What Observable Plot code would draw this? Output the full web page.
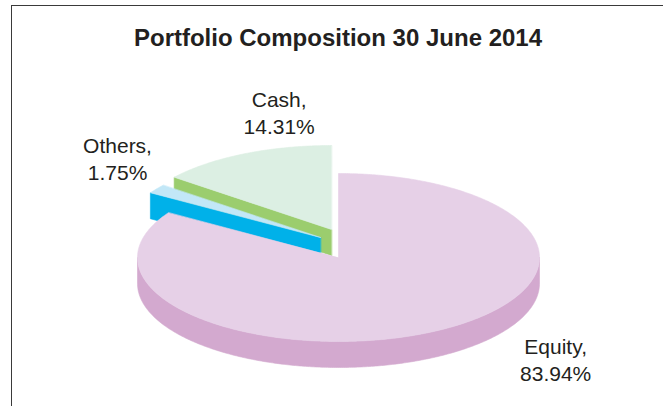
<!DOCTYPE html>
<html><head><meta charset="utf-8">
<script src="https://cdn.jsdelivr.net/npm/d3@7"></script>
<script src="https://cdn.jsdelivr.net/npm/@observablehq/plot@0.6"></script>
<style>
html,body{margin:0;padding:0;background:#fff;}
#wrap{position:relative;width:663px;height:406px;overflow:hidden;}
#frame{position:absolute;left:11px;top:5px;width:720px;height:460px;border:1.6px solid #3a3a3a;box-sizing:border-box;}
#chart{position:absolute;left:0;top:0;}
</style></head><body>
<div id="wrap"><div id="frame"></div><div id="chart"></div></div>
<script>
// ---- data ----
const title = "Portfolio Composition 30 June 2014";
const categories = ["Equity", "Others", "Cash"];
const values = [83.94, 1.75, 14.31];
const labels = ["Equity,\n83.94%", "Others,\n1.75%", "Cash,\n14.31%"];

// ---- layout / style ----
const W = 663, H = 406;
const geo = {cx: 338, cy: 257, rx: 201, ry: 84, depth: 26};
const explode = {Equity: [0, 0], Others: [-18, -20], Cash: [-7, -28]};
const colors = {
  Equity: {top: "#e6d0e7", side: "#d3a9cf"},
  Others: {top: "#c2e7f7", side: "#00b1e9"},
  Cash:   {top: "#dcefe3", side: "#9bcd6e"}
};
const labelNudge = {Equity: [120, 4], Others: [-39, -55], Cash: [35, -66]};
const font = "'Liberation Sans', Arial, Helvetica, sans-serif";
const ink = "#231f20";

// ---- geometry from data ----
const rows = categories.map((c, i) => ({category: c, value: values[i], label: labels[i]}));
const arcs = d3.pie().sort(null).value(d => d.value).startAngle(0).endAngle(2 * Math.PI)(rows);

function P(a, o, dz = 0) {
  return [geo.cx + o[0] + geo.rx * Math.sin(a), geo.cy + o[1] - geo.ry * Math.cos(a) + dz];
}
function sample(a0, a1) {
  const n = Math.max(2, Math.ceil(Math.abs(a1 - a0) / 0.01));
  return d3.range(n + 1).map(i => a0 + (a1 - a0) * i / n);
}

const polys = [];
let pid = 0;
function addPoly(pts, color) {
  const id = pid++;
  for (const [x, y] of pts) polys.push({id, x, y, color});
}

// draw back slices first (by apex screen y)
const ordered = arcs.slice().sort((a, b) =>
  explode[a.data.category][1] - explode[b.data.category][1]);

const labelRows = [];
for (const arc of ordered) {
  const cat = arc.data.category;
  const o = explode[cat];
  const col = colors[cat];
  const a0 = arc.startAngle, a1 = arc.endAngle;
  const apex = [geo.cx + o[0], geo.cy + o[1]];
  const apexB = [apex[0], apex[1] + geo.depth];
  if (Math.sin(a0) < -1e-6) {
    addPoly([apex, P(a0, o), P(a0, o, geo.depth), apexB], col.side);
  }
  if (Math.sin(a1) > 1e-6) {
    addPoly([apex, P(a1, o), P(a1, o, geo.depth), apexB], col.side);
  }
  const s0 = Math.max(a0, Math.PI / 2), s1 = Math.min(a1, 3 * Math.PI / 2);
  if (s1 > s0) {
    const angs = sample(s0, s1);
    const topPts = angs.map(a => P(a, o));
    const botPts = angs.slice().reverse().map(a => P(a, o, geo.depth));
    addPoly(topPts.concat(botPts), col.side);
  }
  addPoly([apex].concat(sample(a0, a1).map(a => P(a, o))), col.top);

  const m = P((a0 + a1) / 2, o);
  const nd = labelNudge[cat];
  labelRows.push({x: m[0] + nd[0], y: m[1] + nd[1], label: arc.data.label});
}

const chart = Plot.plot({
  width: W, height: H, margin: 0,
  style: {background: "transparent", fontFamily: font},
  x: {domain: [0, W], range: [0, W], axis: null},
  y: {domain: [0, H], range: [0, H], axis: null},
  color: {type: "identity"},
  marks: [
    Plot.line(polys, {x: "x", y: "y", z: "id", fill: "color", stroke: "color", strokeWidth: 0.6, curve: "linear-closed"}),
    Plot.text(labelRows, {x: "x", y: "y", text: "label", fontSize: 21, lineHeight: 1.29,
      lineAnchor: "top", textAnchor: "middle", fill: ink, fontFamily: font}),
    Plot.text([title], {frameAnchor: "top", dx: 6, dy: 28, text: d => d, fontSize: 24, fontWeight: "bold",
      lineAnchor: "top", fill: ink, fontFamily: font})
  ]
});
document.getElementById("chart").appendChild(chart);
</script>
</body></html>
